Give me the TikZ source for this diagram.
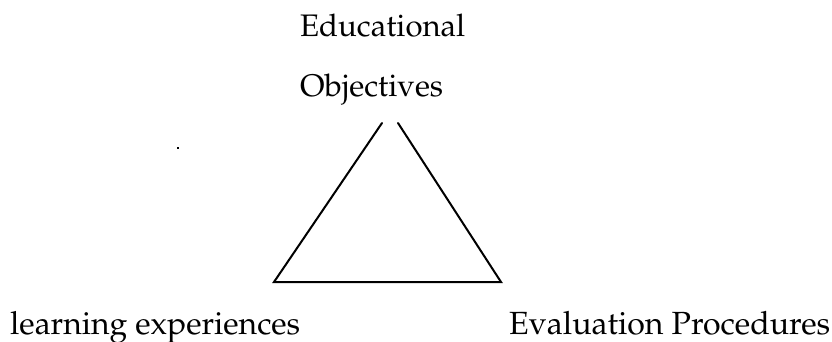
\documentclass[tikz,border=0pt]{standalone}
\usepackage[T1]{fontenc}
\usepackage{mathpazo}
\begin{document}
\begin{tikzpicture}[x=1pt,y=-1pt,
  lbl/.style={anchor=base west,inner sep=0pt,font=\fontsize{32}{38}\selectfont},
  edge/.style={line width=2pt,line cap=round}]
\useasboundingbox (0,0) rectangle (832,342);
\node[lbl] (edu) at (300,37) {\resizebox{165pt}{!}{Educational}};
\node[lbl] (obj) at (300,97) {\resizebox{143pt}{!}{Objectives}};
\node[lbl] (learn) at (10,334) {\resizebox{290pt}{!}{learning experiences}};
\node[lbl] (eval) at (509,334) {\resizebox{321pt}{!}{Evaluation Procedures}};
\coordinate (tl) at (382,123);
\coordinate (tr) at (398,123);
\coordinate (bl) at (274,282);
\coordinate (br) at (501,282);
\draw[edge] (tl) -- (bl) -- (br) -- (tr);
\fill (177,147) rectangle (179,149);
\end{tikzpicture}
\end{document}
